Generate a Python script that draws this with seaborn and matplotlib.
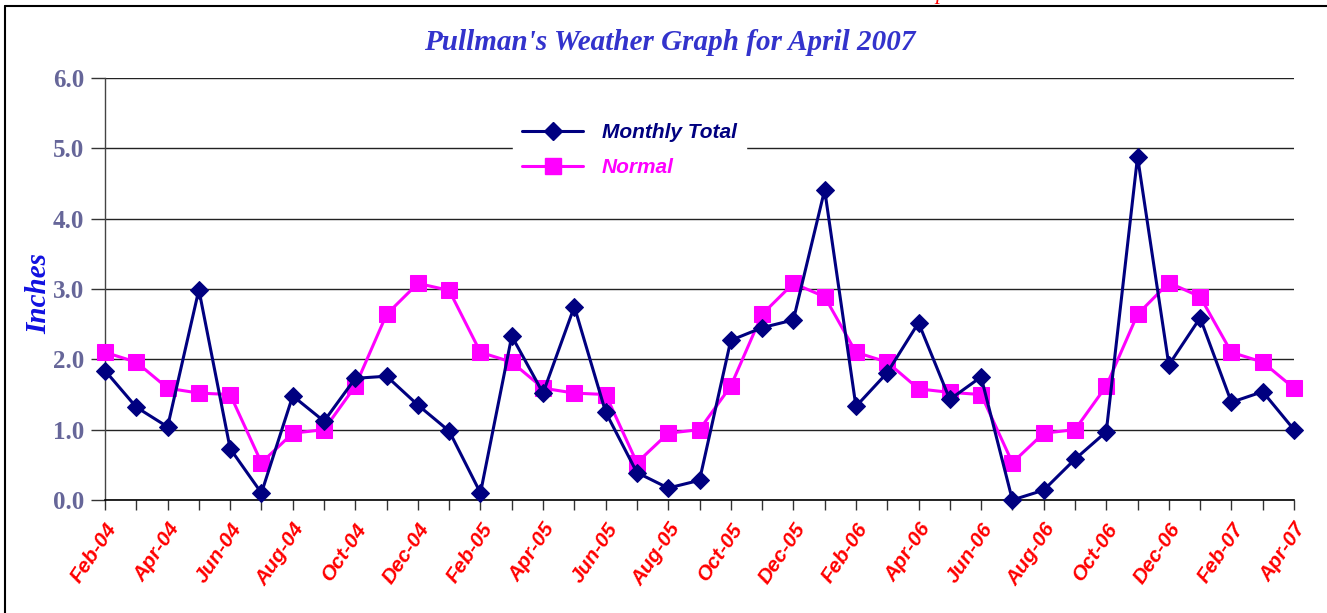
import numpy as np
import pandas as pd
import seaborn as sns
import matplotlib
matplotlib.use("Agg")
import matplotlib.pyplot as plt
from matplotlib.lines import Line2D

# monthly precipitation, Feb-04 .. Apr-07
months = ["Feb-04", "Mar-04", "Apr-04", "May-04", "Jun-04", "Jul-04", "Aug-04", "Sep-04",
          "Oct-04", "Nov-04", "Dec-04", "Jan-05", "Feb-05", "Mar-05", "Apr-05", "May-05",
          "Jun-05", "Jul-05", "Aug-05", "Sep-05", "Oct-05", "Nov-05", "Dec-05", "Jan-06",
          "Feb-06", "Mar-06", "Apr-06", "May-06", "Jun-06", "Jul-06", "Aug-06", "Sep-06",
          "Oct-06", "Nov-06", "Dec-06", "Jan-07", "Feb-07", "Mar-07", "Apr-07"]
monthly_total = [1.84, 1.32, 1.04, 2.99, 0.73, 0.10, 1.48, 1.12, 1.73, 1.76, 1.35, 0.98,
                 0.10, 2.33, 1.52, 2.75, 1.25, 0.39, 0.17, 0.28, 2.27, 2.45, 2.56, 4.41,
                 1.33, 1.81, 2.52, 1.43, 1.75, 0.00, 0.14, 0.58, 0.97, 4.88, 1.92, 2.59,
                 1.39, 1.54, 1.00]
normal = [2.10, 1.96, 1.59, 1.52, 1.50, 0.53, 0.95, 1.00, 1.62, 2.64, 3.08, 2.98,
          2.10, 1.96, 1.59, 1.52, 1.50, 0.53, 0.95, 1.00, 1.62, 2.64, 3.08, 2.89,
          2.10, 1.96, 1.58, 1.53, 1.50, 0.53, 0.95, 1.00, 1.62, 2.64, 3.09, 2.89,
          2.10, 1.96, 1.59]

df = pd.DataFrame({"idx": np.arange(len(months)), "Month": months,
                   "Monthly Total": monthly_total, "Normal": normal})

NAVY = "#000080"
MAG = "#FF00FF"
SLATE = "#666699"

sns.set_style("white")
plt.rcParams["font.family"] = ["Liberation Serif", "DejaVu Serif"]

fig = plt.figure(figsize=(13.27, 6.13), dpi=100)
ax = fig.add_axes([105 / 1327, 1 - 500 / 613, 1189 / 1327, 422 / 613])

sns.lineplot(data=df, x="idx", y="Monthly Total", ax=ax, color=NAVY, lw=2.2,
             marker="D", markersize=9.5, markeredgecolor=NAVY, clip_on=False, zorder=4)
sns.lineplot(data=df, x="idx", y="Normal", ax=ax, color=MAG, lw=2.2,
             marker="s", markersize=11.5, markeredgecolor=MAG, clip_on=False, zorder=3)

ax.set_xlim(0, len(months) - 1)
ax.set_ylim(0, 6)
ax.set_yticks(np.arange(0, 6.1, 1.0))
ax.set_yticklabels([f"{v:.1f}" for v in np.arange(0, 6.1, 1.0)],
                   fontsize=18, fontweight="bold", color=SLATE)
ax.yaxis.grid(True, color="#222222", lw=1.0)
ax.set_axisbelow(True)

ax.set_xticks(df["idx"])
ax.set_xticklabels([m if i % 2 == 0 else "" for i, m in enumerate(months)],
                   rotation=56, ha="right", rotation_mode="anchor",
                   fontsize=15, fontweight="bold", fontstyle="italic",
                   color="red", family="Liberation Sans")
ax.tick_params(axis="x", direction="out", length=7, width=1, color="#333333", pad=7, bottom=True)
ax.tick_params(axis="y", direction="out", length=10, width=1, color="#333333", pad=5, left=True)

for s in ["top", "right"]:
    ax.spines[s].set_visible(False)
ax.spines["left"].set_color("#444444")
ax.spines["bottom"].set_color("black")
ax.spines["left"].set_linewidth(1)
ax.spines["bottom"].set_linewidth(1.2)

ax.set_xlabel("")
ax.set_ylabel("Inches", fontsize=21, fontweight="bold", fontstyle="italic",
              color="#1010E0")
ax.yaxis.set_label_coords(-53 / 1189, 0.49)

fig.text(670 / 1327, 1 - 42 / 613, "Pullman's Weather Graph for April 2007",
         ha="center", va="center", fontsize=21, fontweight="bold",
         fontstyle="italic", color="#3333CC")

handles = [Line2D([], [], color=NAVY, lw=2.2, marker="D", markersize=9.5),
           Line2D([], [], color=MAG, lw=2.2, marker="s", markersize=11.5)]
leg = ax.legend(handles, ["Monthly Total", "Normal"], loc="upper left",
                bbox_to_anchor=(408 / 1189, 1 - 36 / 422), frameon=True,
                facecolor="white", edgecolor="white", framealpha=1,
                handlelength=2.9, handletextpad=0.9, labelspacing=0.75,
                borderpad=0.45, borderaxespad=0,
                prop={"family": "Liberation Sans", "weight": "bold",
                      "style": "italic", "size": 15})
for t, c in zip(leg.get_texts(), [NAVY, MAG]):
    t.set_color(c)

# outer chart-area border (top and left)
fig.add_artist(Line2D([5 / 1327, 1], [1 - 5.5 / 613, 1 - 5.5 / 613],
                      transform=fig.transFigure, color="black", lw=1.5))
fig.add_artist(Line2D([5 / 1327, 5 / 1327], [0, 1 - 5.5 / 613],
                      transform=fig.transFigure, color="black", lw=1.5))
# descender of red text cut off at the top edge, as in the source image
fig.text(941 / 1327, 1 + 1 / 613, "p", ha="center", va="baseline", fontsize=16,
         fontstyle="italic", color="red")

fig.savefig("out.png", dpi=100)
